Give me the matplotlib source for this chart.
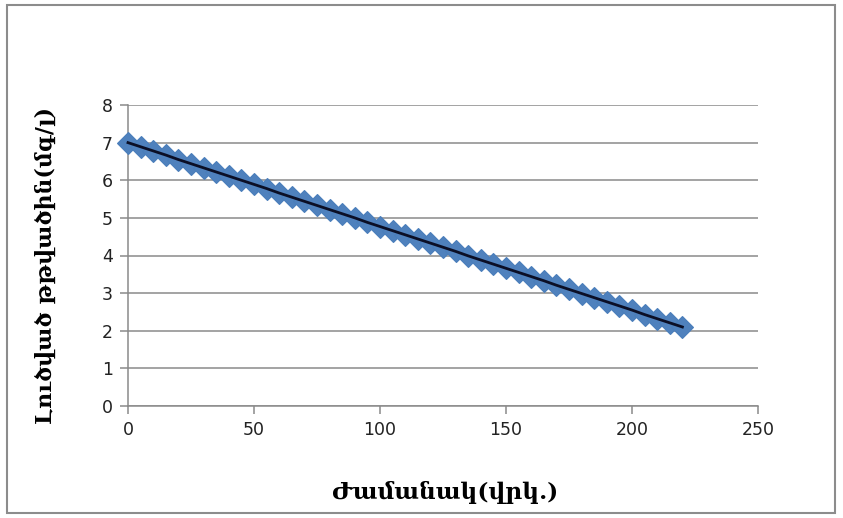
import matplotlib
matplotlib.use("Agg")
import matplotlib.pyplot as plt
from matplotlib.patches import Rectangle

# Time (s) and dissolved oxygen (mg/l)
time_s = [0, 5, 10, 15, 20, 25, 30, 35, 40, 45, 50, 55, 60, 65, 70, 75, 80,
          85, 90, 95, 100, 105, 110, 115, 120, 125, 130, 135, 140, 145, 150,
          155, 160, 165, 170, 175, 180, 185, 190, 195, 200, 205, 210, 215, 220]
oxygen = [7.00, 6.89, 6.78, 6.67, 6.55, 6.44, 6.33, 6.22, 6.11, 6.00, 5.89,
          5.78, 5.66, 5.55, 5.44, 5.33, 5.22, 5.11, 5.00, 4.88, 4.77, 4.66,
          4.55, 4.44, 4.33, 4.22, 4.11, 3.99, 3.88, 3.77, 3.66, 3.55, 3.44,
          3.33, 3.21, 3.10, 2.99, 2.88, 2.77, 2.66, 2.55, 2.43, 2.32, 2.21, 2.10]

x_ticks = [0, 50, 100, 150, 200, 250]
y_ticks = [0, 1, 2, 3, 4, 5, 6, 7, 8]
x_label = "Ժամանակ(վրկ.)"
y_label = "Լուծված թթվածին(մգ/լ)"

W, H = 843, 518
fig = plt.figure(figsize=(W / 100, H / 100), dpi=100)
fig.patch.set_facecolor("white")

# outer chart frame
fig.patches.append(Rectangle((7 / W, 5 / H), (835 - 7) / W, (513 - 5) / H,
                             transform=fig.transFigure, fill=False,
                             edgecolor="#8c8c8c", linewidth=1.5))

ax = fig.add_axes([128 / W, 1 - 406 / H, (758 - 128) / W, (406 - 105) / H])
ax.set_xlim(0, 250)
ax.set_ylim(0, 8)
ax.set_xticks(x_ticks)
ax.set_yticks(y_ticks)

ax.grid(axis="y", color="#8a8a8a", linewidth=1.1)
ax.set_axisbelow(True)
for s in ("top", "right"):
    ax.spines[s].set_visible(False)
for s in ("left", "bottom"):
    ax.spines[s].set_color("#8a8a8a")
    ax.spines[s].set_linewidth(1.1)
ax.tick_params(axis="both", direction="out", length=6, color="#8a8a8a",
               width=1.1, labelsize=12.5, labelcolor="#222222", pad=5)

ax.plot(time_s, oxygen, linestyle="none", marker="D", markersize=11,
        markerfacecolor="#4F81BD", markeredgecolor="#4A7EBB",
        markeredgewidth=0.8, clip_on=False, zorder=3)
ax.plot(time_s, oxygen, color="#0b0f26", linewidth=2, zorder=4,
        clip_on=False)

fig.text(445 / W, 1 - 492 / H, x_label, ha="center", va="center",
         fontsize=16.8, fontweight="bold", family=["DejaVu Serif", "DejaVu Sans"])
fig.text(46 / W, 1 - 266 / H, y_label, ha="center", va="center",
         rotation=90, fontsize=15.8, fontweight="bold",
         family=["DejaVu Serif", "DejaVu Sans"])

fig.savefig("out.png", dpi=100, facecolor="white")
